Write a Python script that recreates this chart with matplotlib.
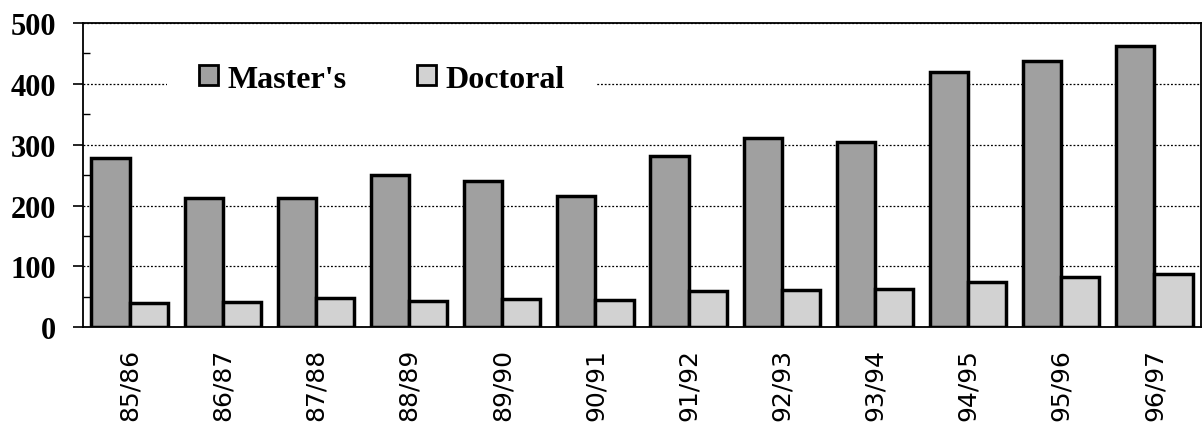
import matplotlib
matplotlib.use("Agg")
import matplotlib.pyplot as plt
import numpy as np
from matplotlib.ticker import MultipleLocator

years = ["85/86", "86/87", "87/88", "88/89", "89/90", "90/91",
         "91/92", "92/93", "93/94", "94/95", "95/96", "96/97"]
masters = [278, 213, 212, 250, 241, 216, 281, 311, 304, 420, 438, 462]
doctoral = [40, 41, 48, 43, 46, 45, 60, 61, 63, 74, 83, 88]

fig = plt.figure(figsize=(12.03, 4.31), dpi=100)
ax = fig.add_axes([83/1203, 1-328.3/431, (1201-83)/1203, (328.3-24)/431])

x = np.arange(len(years))
w = 0.41
ax.bar(x - w/2, masters, w, color="#a0a0a0", edgecolor="black", linewidth=2.5,
       label="Master's", zorder=3)
ax.bar(x + w/2, doctoral, w, color="#d2d2d2", edgecolor="black", linewidth=2.5,
       label="Doctoral", zorder=3)

ax.set_xlim(-0.5, len(years) - 0.5)
ax.set_ylim(0, 500)
ax.yaxis.set_major_locator(MultipleLocator(100))
ax.yaxis.set_minor_locator(MultipleLocator(50))
ax.set_axisbelow(True)
ax.yaxis.grid(True, which="major", color="black", linestyle=(0, (1.5, 1.5)), linewidth=0.9)

for s in ax.spines.values():
    s.set_linewidth(1.3)
    s.set_color("black")

ax.tick_params(axis="y", which="major", direction="out", length=7.2, width=1.2, pad=12)
ax.tick_params(axis="y", which="minor", direction="in", length=5, width=1.0)
ax.tick_params(axis="x", which="both", length=0, pad=15)

ax.set_xticks(x)
ax.set_xticklabels(years, rotation=90, fontsize=18, family="DejaVu Sans")
for lab in ax.get_yticklabels():
    lab.set_fontfamily("Liberation Serif")
    lab.set_fontweight("bold")
    lab.set_fontsize(22)

leg = ax.legend(loc="center left", bbox_to_anchor=(167/1203, 1-80/431),
                bbox_transform=fig.transFigure, ncol=2, frameon=True,
                facecolor="white", edgecolor="none", framealpha=1,
                borderpad=1.0, borderaxespad=0, handlelength=0.6, handleheight=0.6,
                handletextpad=0.3, columnspacing=2.2,
                prop={"family": "Liberation Serif", "weight": "bold", "size": 23})
leg.get_frame().set_linewidth(0)
for h in leg.legend_handles:
    h.set_linewidth(2.0)

fig.savefig("out.png", dpi=100)
